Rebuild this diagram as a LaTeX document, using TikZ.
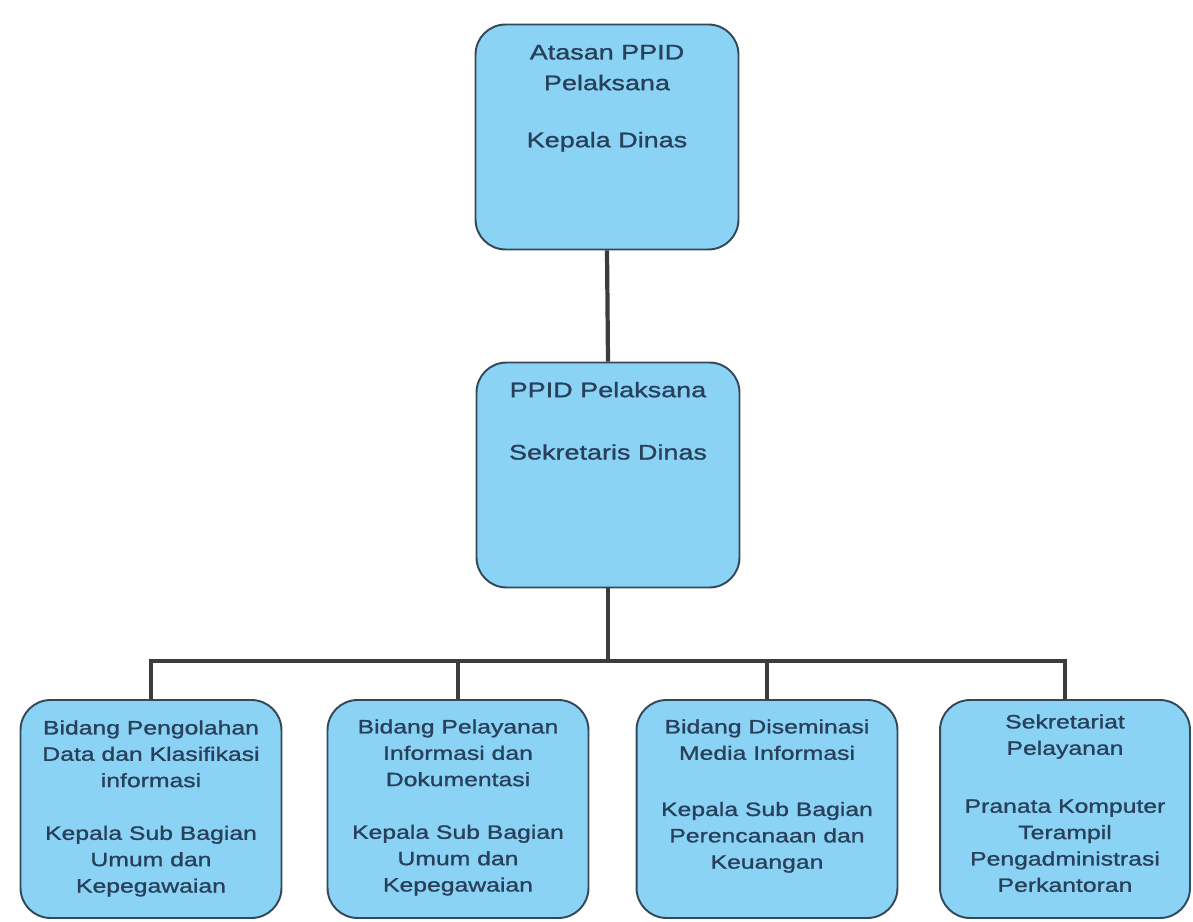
\documentclass[tikz,border=0pt]{standalone}
\usepackage{fontspec}
\setmainfont{Liberation Sans}
\newfontfamily\boxfont[FakeStretch=1.28,FakeBold=1.2]{Liberation Sans}
\usetikzlibrary{positioning}
\definecolor{boxfill}{RGB}{139,211,245}
\definecolor{boxline}{RGB}{52,72,88}
\definecolor{boxtext}{RGB}{40,64,90}
\definecolor{linkgray}{RGB}{60,60,60}

\begin{document}
\begin{tikzpicture}[x=0.02cm, y=-0.02cm]
\tikzset{
  unitbox/.style={draw=boxline, line width=1.1pt, fill=boxfill, rounded corners=0.6cm,
    minimum width=5.26cm, minimum height=4.5cm, inner sep=0pt},
  subbox/.style={unitbox, minimum width=5.22cm, minimum height=4.36cm},
  headtext/.style={text=boxtext, align=center, inner sep=0pt, font=\boxfont\fontsize{12}{17.5}\selectfont},
  subtext/.style={headtext, font=\boxfont\fontsize{11}{15}\selectfont},
  link/.style={draw=linkgray, line width=2.4pt}
}
\useasboundingbox (0,0) rectangle (1193,922);

% top of the chart
\node[unitbox] (atasan) at (607,137) {};
\node[headtext, below=0.42cm of atasan.north] (atasan-text) {Atasan PPID\\Pelaksana\\[15pt]Kepala Dinas};

\node[unitbox] (ppid) at (608,475) {};
\node[headtext, below=0.4cm of ppid.north] (ppid-text) {PPID Pelaksana\\[18pt]Sekretaris Dinas};

\draw[link] (atasan.south) -- (ppid.north);

% bottom row
\node[subbox] (pengolahan) at (151,809) {};
\node[subtext, below=0.42cm of pengolahan.north] (pengolahan-text) {Bidang Pengolahan\\Data dan Klasifikasi\\informasi\\[15pt]Kepala Sub Bagian\\Umum dan\\Kepegawaian};

\node[subbox] (pelayanan) at (458,809) {};
\node[subtext, below=0.4cm of pelayanan.north] (pelayanan-text) {Bidang Pelayanan\\Informasi dan\\Dokumentasi\\[15pt]Kepala Sub Bagian\\Umum dan\\Kepegawaian};

\node[subbox] (diseminasi) at (767,809) {};
\node[subtext, below=0.4cm of diseminasi.north] (diseminasi-text) {Bidang Diseminasi\\Media Informasi\\[17pt]Kepala Sub Bagian\\Perencanaan dan\\Keuangan};

\node[subbox, minimum width=5cm] (sekretariat) at (1065,809) {};
\node[subtext, below=0.3cm of sekretariat.north] (sekretariat-text) {Sekretariat\\Pelayanan\\[18pt]Pranata Komputer\\Terampil\\Pengadministrasi\\Perkantoran};

\coordinate (bus) at (608,661);
\draw[link] (ppid.south) -- (bus);
\foreach \unit in {pengolahan,pelayanan,diseminasi,sekretariat}
  \draw[link] (\unit.north) |- (bus);

\end{tikzpicture}
\end{document}
